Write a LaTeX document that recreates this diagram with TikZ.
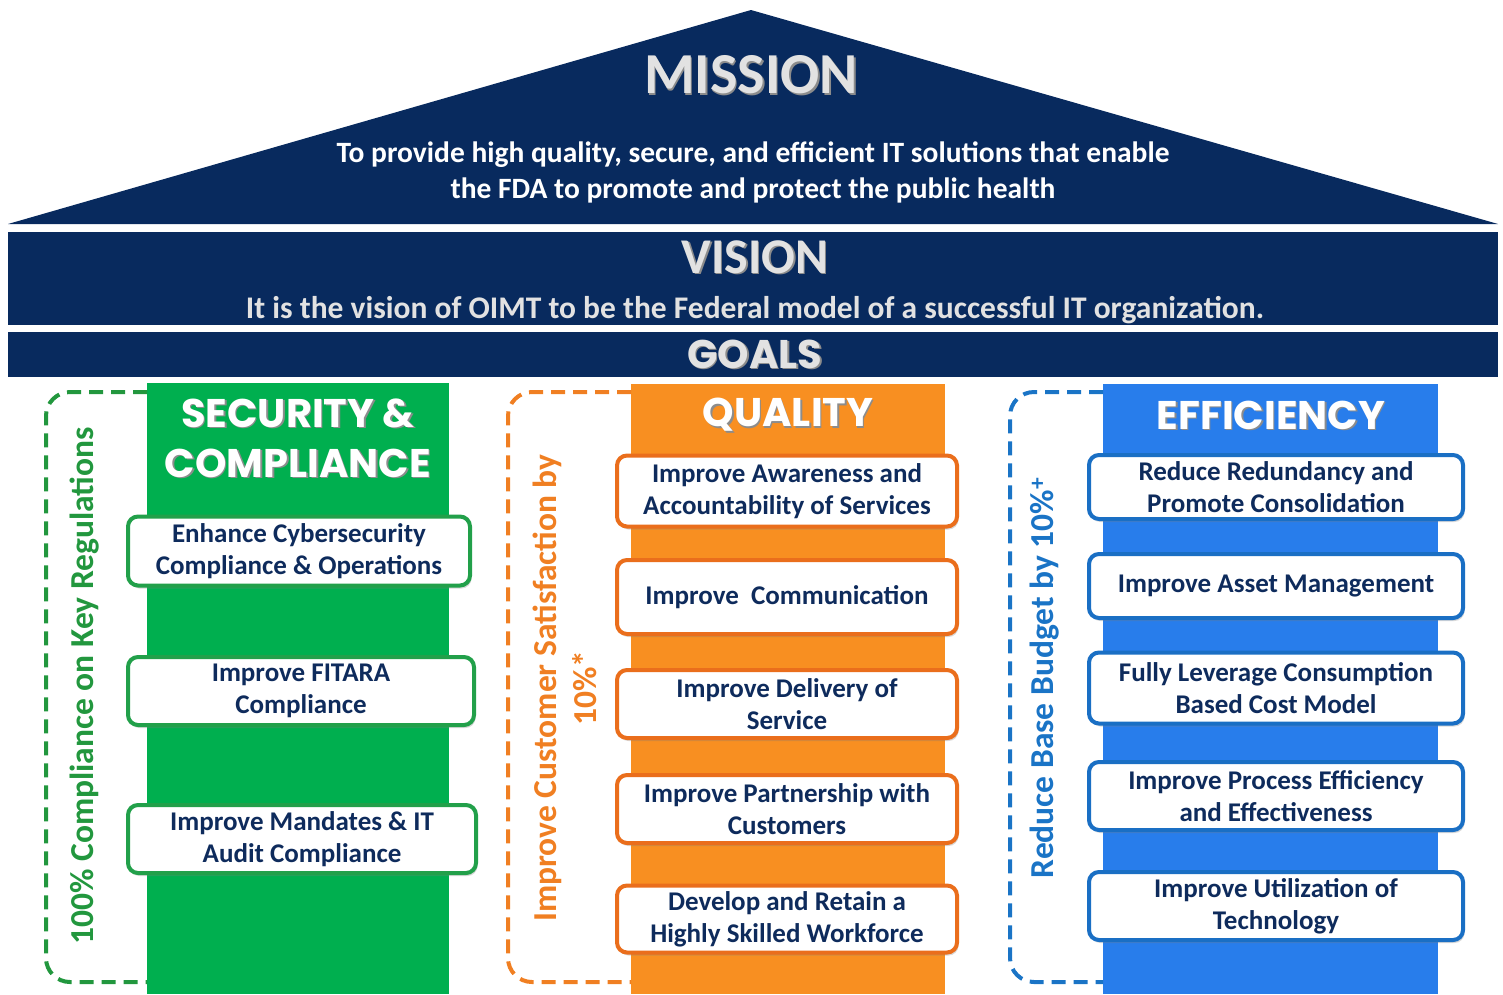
\documentclass[tikz,border=0pt]{standalone}
\usepackage{fontspec}
\setmainfont{Carlito}
\newfontfamily\headfont{Poppins}
\usetikzlibrary{shadows}
\definecolor{navy}{HTML}{082A5E}
\definecolor{navytxt}{HTML}{0E2B5C}
\definecolor{colG}{HTML}{00AF4F}
\definecolor{colO}{HTML}{F88F21}
\definecolor{colB}{HTML}{287DEB}
\definecolor{brdG}{HTML}{22A04A}
\definecolor{brdO}{HTML}{EA6E1C}
\definecolor{brdB}{HTML}{1A6FC4}
\definecolor{dashG}{HTML}{22973E}
\definecolor{dashO}{HTML}{F07F22}
\definecolor{dashB}{HTML}{1A74C6}
\definecolor{silver}{HTML}{E2E2E2}
\tikzset{
  band/.style={fill=navy, draw=none},
  column/.style={draw=none, anchor=north west, inner sep=0pt},
  goalbox/.style={draw, line width=4pt, rounded corners=10pt, fill=white, text=navytxt,
    font=\bfseries\fontsize{27}{32}\selectfont, align=center, inner sep=0pt,
    drop shadow={opacity=0.3, shadow xshift=1.5pt, shadow yshift=-3pt}},
  bracket/.style={dashed, dash pattern=on 14pt off 8pt, line width=4pt, rounded corners=24pt},
  sidetxt/.style={rotate=90, font=\bfseries\fontsize{33.5}{40}\selectfont, align=center},
  bighead/.style={text=silver, font=\bfseries\fontsize{58}{58}\selectfont},
  midhead/.style={text=silver, font=\bfseries\fontsize{50}{50}\selectfont},
  colhead/.style={text=white, font=\headfont\bfseries\fontsize{40}{50}\selectfont, align=center},
  shade/.style={text=black!45, xshift=1.5pt, yshift=-1.5pt},
}
\begin{document}
\begin{tikzpicture}[x=1pt,y=-1pt]
\useasboundingbox (0,0) rectangle (1503,994);
% roof and bands
\fill[band] (8,224) -- (751,10) -- (1498,224) -- cycle;
\fill[band] (8,232) rectangle (1498,325);
\fill[band] (8,332) rectangle (1498,377);
\node[bighead,shade] at (751,75) {MISSION};
\node[bighead] (mission) at (751,75) {MISSION};
\node[text=white, font=\bfseries\fontsize{29.5}{36}\selectfont, align=center] (mtext) at (753,172)
  {To provide high quality, secure, and efficient IT solutions that enable\\the FDA to promote and protect the public health};
\node[midhead,shade] at (755,257) {VISION};
\node[midhead] (vision) at (755,257) {VISION};
\node[text=silver, font=\bfseries\fontsize{31.5}{34}\selectfont] (vtext) at (755,310)
  {It is the vision of OIMT to be the Federal model of a successful IT organization.};
\node[colhead,shade] at (755,354) {GOALS};
\node[colhead,text=silver] (goals) at (755,354) {GOALS};

% columns
\node[column, fill=colG, minimum width=302pt, minimum height=611pt] (colS) at (147,383) {};
\node[column, fill=colO, minimum width=314pt, minimum height=610pt] (colQ) at (631,384) {};
\node[column, fill=colB, minimum width=335pt, minimum height=610pt] (colE) at (1103,384) {};

% dashed brackets
\draw[bracket, dashG] (147,392) -| (46,982) -- (147,982);
\draw[bracket, dashO] (631,392) -| (508,982) -- (631,982);
\draw[bracket, dashB] (1103,392) -| (1010,982) -- (1103,982);

% column headings
\node[colhead,shade] at (298,438) {SECURITY \&\\COMPLIANCE};
\node[colhead] (hS) at (298,438) {SECURITY \&\\COMPLIANCE};
\node[colhead,shade] at (788,415) {QUALITY};
\node[colhead] (hQ) at (788,415) {QUALITY};
\node[colhead,shade] at (1271,415) {EFFICIENCY};
\node[colhead] (hE) at (1271,415) {EFFICIENCY};

% side texts
\node[sidetxt, text=dashG] (sS) at (85,686) {100\% Compliance on Key Regulations};
\node[sidetxt, text=dashO] (sQ) at (565,688) {Improve Customer Satisfaction by\\10\%*};
\node[sidetxt, text=dashB] (sE) at (1045,678) {Reduce Base Budget by 10\%\textsuperscript{+}};

% security boxes
\node[goalbox, draw=brdG, minimum width=342pt, minimum height=69pt] (g1) at (299,551) {Enhance Cybersecurity\\Compliance \& Operations};
\node[goalbox, draw=brdG, minimum width=346pt, minimum height=68pt] (g2) at (301,691) {Improve FITARA\\Compliance};
\node[goalbox, draw=brdG, minimum width=348pt, minimum height=68pt] (g3) at (302,839) {Improve Mandates \& IT\\Audit Compliance};

% quality boxes
\node[goalbox, draw=brdO, minimum width=340pt, minimum height=71pt] (q1) at (787,491) {Improve Awareness and\\Accountability of Services};
\node[goalbox, draw=brdO, minimum width=340pt, minimum height=74pt] (q2) at (787,597) {Improve\ \ Communication};
\node[goalbox, draw=brdO, minimum width=340pt, minimum height=68pt] (q3) at (787,704) {Improve Delivery of\\Service};
\node[goalbox, draw=brdO, minimum width=340pt, minimum height=68pt] (q4) at (787,809) {Improve Partnership with\\Customers};
\node[goalbox, draw=brdO, minimum width=340pt, minimum height=67pt] (q5) at (787,919) {Develop and Retain a\\Highly Skilled Workforce};

% efficiency boxes
\node[goalbox, draw=brdB, minimum width=374pt, minimum height=64pt] (e1) at (1276,487) {Reduce Redundancy and\\Promote Consolidation};
\node[goalbox, draw=brdB, minimum width=374pt, minimum height=64pt] (e2) at (1276,586) {Improve Asset Management};
\node[goalbox, draw=brdB, minimum width=374pt, minimum height=71pt] (e3) at (1276,688) {Fully Leverage Consumption\\Based Cost Model};
\node[goalbox, draw=brdB, minimum width=374pt, minimum height=68pt] (e4) at (1276,796) {Improve Process Efficiency\\and Effectiveness};
\node[goalbox, draw=brdB, minimum width=374pt, minimum height=68pt] (e5) at (1276,906) {Improve Utilization of\\Technology};
\end{tikzpicture}
\end{document}
